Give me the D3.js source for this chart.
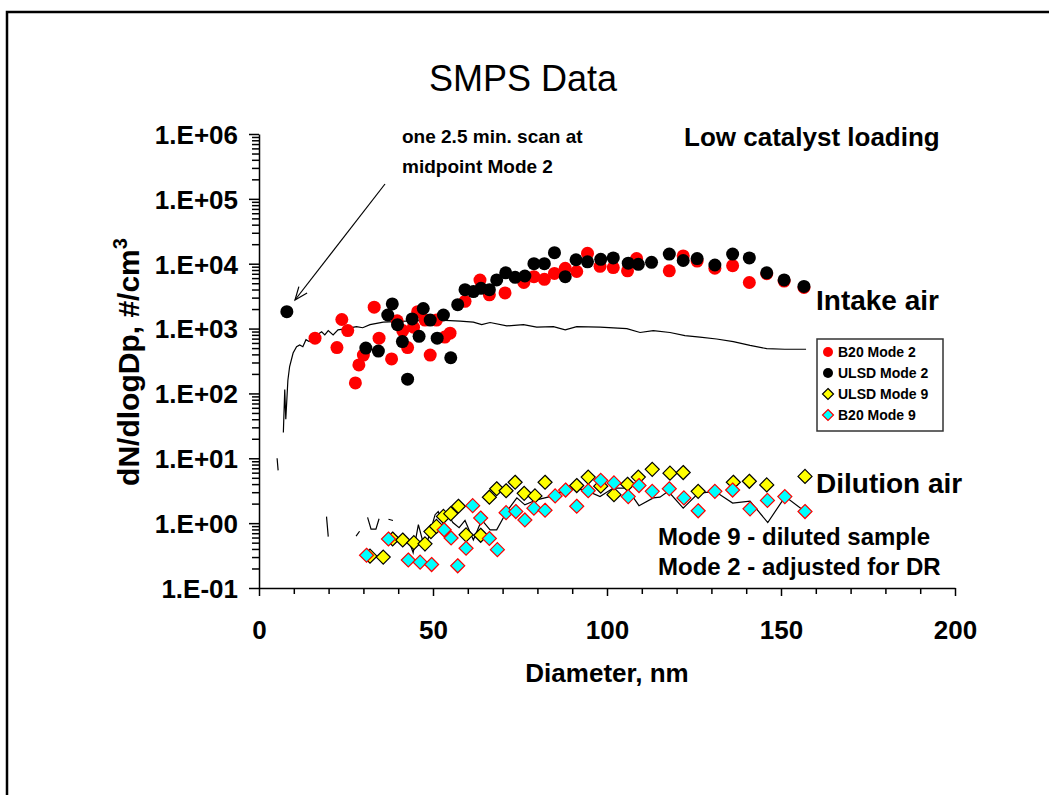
<!DOCTYPE html>
<html>
<head>
<meta charset="utf-8">
<title>SMPS Data</title>
<script src="https://cdn.jsdelivr.net/npm/d3@7/dist/d3.min.js"></script>
<style>
  html, body { margin: 0; padding: 0; background: #fff; }
  svg { display: block; font-family: Arial, 'Liberation Sans', sans-serif; }
  .bold { font-weight: bold; }
  .axis path, .axis line { stroke: #000; stroke-width: 1.5; }
  .axis text { font-size: 26px; font-weight: bold; fill: #000; }
</style>
</head>
<body>
<svg id="chart" width="1049" height="795"></svg>
<script>
// [diameter nm, dN/dlogDp #/cm3]
const b20Mode2 = [
  [16.1, 710], [22.4, 510], [23.8, 1380], [25.5, 930], [27.7, 145], [28.7, 275],
  [30.0, 390], [33.1, 2140], [34.5, 710], [38.1, 340], [39.7, 1320], [41.3, 930],
  [42.7, 510], [44.4, 1050], [45.6, 1820], [47.7, 1350], [49.2, 390], [51.0, 1350],
  [53.4, 740], [54.9, 850], [59.2, 2630], [63.5, 5600], [66.2, 3310], [70.7, 3550],
  [76.1, 5130], [79.0, 6310], [82.0, 5750], [84.9, 7080], [88.0, 8510], [91.3, 7590],
  [94.4, 14450], [98.0, 9120], [101.8, 8710], [105.9, 7760], [108.5, 12000],
  [117.9, 7760], [121.9, 13200], [125.9, 11000], [131.0, 8510], [136.1, 9330],
  [140.9, 5130], [145.9, 7000], [150.9, 5400], [156.6, 4300],
];

const ulsdMode2 = [
  [8.0, 1820], [30.7, 500], [34.3, 450], [37.0, 1620], [38.3, 2400], [39.8, 1150],
  [41.2, 630], [42.7, 166], [44.0, 1410], [46.0, 760], [47.2, 2040], [49.2, 1350],
  [51.2, 710], [53.0, 1620], [55.1, 355], [57.1, 2340], [59.2, 3980], [61.6, 3720],
  [63.8, 4170], [66.2, 3980], [68.3, 5620], [70.9, 7240], [73.6, 6170], [76.4, 6460],
  [79.0, 10000], [82.0, 10000], [84.9, 14800], [88.0, 6310], [91.1, 11500],
  [94.4, 10700], [98.2, 11700], [101.8, 12300], [106.1, 10200], [109.0, 9770],
  [112.8, 10500], [117.9, 14100], [121.9, 11200], [125.9, 12000], [131.0, 9550],
  [136.1, 14100], [140.9, 12300], [145.9, 7240], [150.9, 5620], [156.6, 4470],
];

const ulsdMode9 = [
  [31.9, 0.31], [35.7, 0.30], [38.4, 0.57], [41.3, 0.55], [44.5, 0.50], [47.7, 0.48],
  [49.4, 0.74], [51.0, 0.89], [53.0, 1.27], [55.1, 1.40], [57.3, 1.82], [59.5, 0.66],
  [63.7, 0.65], [66.2, 2.51], [68.3, 3.39], [71.0, 3.16], [73.6, 4.27], [76.2, 2.88],
  [79.3, 2.63], [82.2, 4.27], [91.3, 3.80], [94.6, 5.13], [98.2, 3.72], [102.0, 2.75],
  [105.9, 3.98], [109.0, 5.13], [113.0, 6.76], [118.1, 5.89], [121.9, 6.03],
  [126.2, 3.09], [136.3, 4.27], [140.9, 4.42], [145.9, 3.89], [156.9, 5.25],
];

const b20Mode9 = [
  [30.9, 0.32], [37.2, 0.57], [42.9, 0.27], [46.3, 0.25], [49.6, 0.23], [53.2, 0.79],
  [55.2, 0.59], [57.1, 0.22], [59.5, 0.41], [61.4, 1.86], [63.7, 1.20], [66.2, 0.58],
  [68.5, 0.39], [71.0, 1.45], [73.8, 1.51], [76.4, 1.12], [79.0, 1.70], [82.2, 1.58],
  [85.1, 2.63], [88.1, 3.24], [91.3, 1.82], [94.6, 3.16], [98.2, 4.57], [102.0, 4.17],
  [106.1, 2.57], [109.2, 3.80], [113.0, 3.09], [117.9, 3.39], [122.1, 2.45],
  [126.2, 1.55], [131.0, 3.09], [136.1, 3.24], [141.1, 1.66], [146.1, 2.24],
  [151.1, 2.57], [156.9, 1.51],
];

const intakeAir = [
  [7.0, 25], [7.4, 115], [7.7, 40], [8.3, 160], [8.8, 260], [9.8, 420], [10.8, 525],
  [11.7, 560], [12.6, 525], [13.5, 675], [14.4, 630], [16.1, 760], [18.0, 890],
  [18.9, 800], [19.9, 930], [21.3, 800], [22.7, 955], [25.1, 1000], [28.0, 1070],
  [29.8, 1030], [31.9, 1150], [35.7, 1260], [40.5, 1290], [45.3, 1320], [52.0, 1350],
  [57.8, 1300], [61.6, 1260], [64.0, 1150], [66.4, 1240], [71.2, 1100], [76.0, 1150],
  [79.8, 1050], [84.6, 1070], [88.0, 955], [91.3, 1070], [98.0, 1050], [105.7, 1000],
  [109.5, 870], [113.3, 930], [118.1, 870], [122.4, 780], [126.7, 740], [131.5, 690],
  [136.3, 630], [141.1, 550], [145.9, 490], [151.1, 480], [157.2, 480],
];

// null = gap (no positive value)
const dilutionAir = [
  [5.2, 10], [5.5, 6.5], null, [19.4, 1.26], [19.9, 0.62], null,
  [27.9, 0.63], [28.9, 0.75], null,
  [31.2, 1.23], [32.2, 0.81], [33.6, 0.81], [34.5, 1.17], null,
  [37.2, 1.15], [38.5, 1.10], null,
  [43.0, 0.55], [44.3, 0.35], [45.8, 0.95], [47.7, 0.39], [50.6, 1.35], [51.5, 1.51],
  [53.0, 0.95], [54.4, 1.35], [55.7, 1.02], [57.5, 0.85], [59.2, 1.1], [61.6, 0.55],
  [64.0, 1.12], [66.4, 0.79], [68.3, 0.79], [71.2, 1.51], [74.1, 2.45], [76.4, 1.91],
  [79.8, 2.29], [83.6, 2.57], [87.4, 3.09], [91.3, 3.47], [94.6, 3.09], [98.0, 2.57],
  [101.8, 3.47], [105.7, 3.47], [109.2, 1.86], [113.3, 2.45], [115.2, 2.51],
  [117.6, 3.09], [121.9, 1.70], [126.2, 2.88], [131.0, 3.09], [136.1, 2.04],
  [141.1, 2.19], [146.2, 1.02], [151.2, 2.57], [156.9, 1.51],
];

const xTicks = [0, 50, 100, 150, 200];
const yDecades = [-1, 0, 1, 2, 3, 4, 5, 6];

const legendItems = [
  { label: 'B20 Mode 2', shape: 'circle', fill: '#ff0000', stroke: 'none' },
  { label: 'ULSD Mode 2', shape: 'circle', fill: '#000000', stroke: 'none' },
  { label: 'ULSD Mode 9', shape: 'diamond', fill: '#ffff00', stroke: '#000000' },
  { label: 'B20 Mode 9', shape: 'diamond', fill: '#00ffff', stroke: '#ff0000' },
];

const svg = d3.select('#chart');

// slide frame (runs off the right and bottom edge)
svg.append('rect')
  .attr('x', 7).attr('y', 12)
  .attr('width', 1100).attr('height', 900)
  .attr('fill', 'none').attr('stroke', '#000').attr('stroke-width', 2.5);

const x = d3.scaleLinear().domain([0, 200]).range([259, 955]);
const y = d3.scaleLog().domain([0.1, 1e6]).range([588, 134]);

const fmtExp = (v) => {
  const e = Math.round(Math.log10(v));
  return `1.E${e < 0 ? '-' : '+'}${String(Math.abs(e)).padStart(2, '0')}`;
};

const majors = yDecades.map((e) => Math.pow(10, e));
const minors = [];
yDecades.slice(0, -1).forEach((e) => {
  for (let m = 2; m <= 9; m++) minors.push(m * Math.pow(10, e));
});
const xMinor = d3.range(10, 200, 10).filter((v) => v % 50 !== 0);

// axes
svg.append('g')
  .attr('class', 'axis')
  .attr('transform', 'translate(259,0)')
  .call(d3.axisLeft(y).tickValues(minors).tickSize(7).tickFormat('').tickSizeOuter(0))
  .call((g) => g.select('.domain').remove());

svg.append('g')
  .attr('class', 'axis')
  .attr('transform', 'translate(259,0)')
  .call(d3.axisLeft(y).tickValues(majors).tickSize(10).tickPadding(11).tickFormat(fmtExp).tickSizeOuter(0))
  .call((g) => g.selectAll('text').attr('dy', '0.36em'));

svg.append('g')
  .attr('class', 'axis')
  .attr('transform', 'translate(0,588)')
  .call(d3.axisBottom(x).tickValues(xMinor).tickSize(6).tickFormat('').tickSizeOuter(0))
  .call((g) => g.select('.domain').remove());

svg.append('g')
  .attr('class', 'axis')
  .attr('transform', 'translate(0,588)')
  .call(d3.axisBottom(x).tickValues(xTicks).tickSize(8).tickFormat(d3.format('d')).tickSizeOuter(0))
  .call((g) => g.selectAll('text').attr('y', 51).attr('dy', null));

// lines
const line = d3.line()
  .defined((d) => d !== null)
  .x((d) => x(d[0]))
  .y((d) => y(d[1]));

svg.append('path')
  .datum(intakeAir)
  .attr('d', line)
  .attr('fill', 'none').attr('stroke', '#000').attr('stroke-width', 1.2);

svg.append('path')
  .datum(dilutionAir)
  .attr('d', line)
  .attr('fill', 'none').attr('stroke', '#000').attr('stroke-width', 1.2);

// markers
const diamond = (s) => `M0,${-s}L${s},0L0,${s}L${-s},0Z`;

function drawCircles(data, fill) {
  svg.append('g').selectAll('circle')
    .data(data)
    .join('circle')
    .attr('cx', (d) => x(d[0]))
    .attr('cy', (d) => y(d[1]))
    .attr('r', 6.5)
    .attr('fill', fill);
}

function drawDiamonds(data, fill, stroke) {
  svg.append('g').selectAll('path')
    .data(data)
    .join('path')
    .attr('transform', (d) => `translate(${x(d[0])},${y(d[1])})`)
    .attr('d', diamond(7))
    .attr('fill', fill)
    .attr('stroke', stroke)
    .attr('stroke-width', 1.2);
}

drawCircles(b20Mode2, '#ff0000');
drawCircles(ulsdMode2, '#000000');
drawDiamonds(ulsdMode9, '#ffff00', '#000000');
drawDiamonds(b20Mode9, '#00ffff', '#ff0000');

// texts
svg.append('text')
  .attr('x', 523).attr('y', 91)
  .attr('text-anchor', 'middle')
  .attr('font-size', 36)
  .text('SMPS Data');

const yLabel = svg.append('text')
  .attr('class', 'bold')
  .attr('transform', 'translate(139,362) rotate(-90)')
  .attr('text-anchor', 'middle')
  .attr('font-size', 30);
yLabel.append('tspan').text('dN/dlogDp, #/cm');
yLabel.append('tspan').attr('font-size', 20).attr('dy', -12).text('3');

svg.append('text')
  .attr('class', 'bold')
  .attr('x', 607).attr('y', 682)
  .attr('text-anchor', 'middle')
  .attr('font-size', 26)
  .text('Diameter, nm');

const notes = [
  { text: 'one 2.5 min. scan at', x: 402, y: 143, size: 19 },
  { text: 'midpoint Mode 2', x: 402, y: 173, size: 19 },
  { text: 'Low catalyst loading', x: 684, y: 146, size: 26 },
  { text: 'Intake air', x: 816, y: 310, size: 28 },
  { text: 'Dilution air', x: 816, y: 493, size: 28 },
  { text: 'Mode 9 - diluted sample', x: 658, y: 545, size: 24 },
  { text: 'Mode 2 - adjusted for DR', x: 658, y: 575, size: 24 },
];

svg.append('g').selectAll('text')
  .data(notes)
  .join('text')
  .attr('class', 'bold')
  .attr('x', (d) => d.x)
  .attr('y', (d) => d.y)
  .attr('font-size', (d) => d.size)
  .text((d) => d.text);

// arrow to the single early scan
const arrowFrom = [385, 184];
const arrowTo = [295, 300];
svg.append('line')
  .attr('x1', arrowFrom[0]).attr('y1', arrowFrom[1])
  .attr('x2', arrowTo[0]).attr('y2', arrowTo[1])
  .attr('stroke', '#000').attr('stroke-width', 1.2);

const ang = Math.atan2(arrowTo[1] - arrowFrom[1], arrowTo[0] - arrowFrom[0]);
const headLen = 14;
const headPts = [-0.38, 0.38].map((da) => [
  arrowTo[0] - headLen * Math.cos(ang + da),
  arrowTo[1] - headLen * Math.sin(ang + da),
]);
svg.append('path')
  .attr('d', `M${headPts[0]}L${arrowTo}L${headPts[1]}`)
  .attr('fill', 'none').attr('stroke', '#000').attr('stroke-width', 1.2);

// legend
const legend = svg.append('g').attr('transform', 'translate(817,339)');
legend.append('rect')
  .attr('width', 126).attr('height', 92)
  .attr('fill', '#fff').attr('stroke', '#333').attr('stroke-width', 1.5);

const entry = legend.selectAll('g.entry')
  .data(legendItems)
  .join('g')
  .attr('class', 'entry')
  .attr('transform', (d, i) => `translate(0,${13 + i * 21})`);

entry.filter((d) => d.shape === 'circle')
  .append('circle')
  .attr('cx', 11).attr('r', 5)
  .attr('fill', (d) => d.fill);

entry.filter((d) => d.shape === 'diamond')
  .append('path')
  .attr('transform', 'translate(11,0)')
  .attr('d', diamond(5.5))
  .attr('fill', (d) => d.fill)
  .attr('stroke', (d) => d.stroke)
  .attr('stroke-width', 1.2);

entry.append('text')
  .attr('class', 'bold')
  .attr('x', 21).attr('dy', '0.36em')
  .attr('font-size', 14)
  .text((d) => d.label);
</script>
</body>
</html>
